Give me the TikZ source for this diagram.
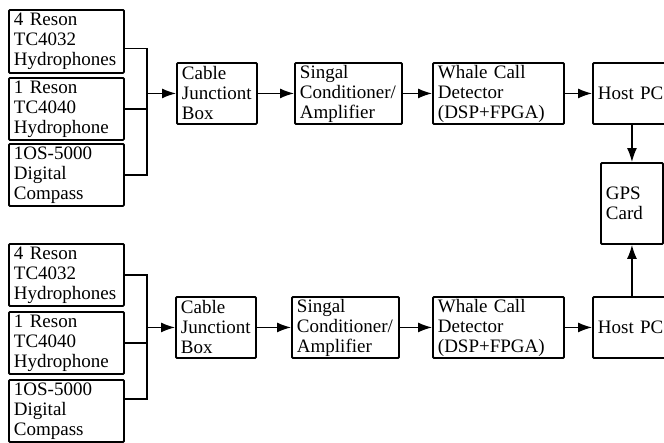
\documentclass[tikz,border=0pt]{standalone}
\usepackage{fontspec}
\setmainfont{Liberation Serif}
\usetikzlibrary{arrows.meta}
\tikzset{
  blk/.style={draw, line width=1.9pt, rounded corners=1pt, anchor=north west,
    inner xsep=5pt, inner ysep=0pt, align=left, minimum height=61pt,
    font=\fontsize{19}{20}\selectfont},
  arr/.style={-{Latex[length=14pt,width=10pt]}, line width=1.4pt},
  bus/.style={line width=1.4pt}
}
\begin{document}
\begin{tikzpicture}[x=1pt,y=-1pt]
  \useasboundingbox (0,0) rectangle (664,442);
  % upper chain
  \node[blk, text width=105pt, minimum height=63pt] (hydA) at (8,9) {4 Reson\\TC4032\\Hydrophones};
  \node[blk, text width=105pt, minimum height=62pt] (oneA) at (8,77) {1 Reson\\TC4040\\Hydrophone};
  \node[blk, text width=105pt, minimum height=62pt] (compA) at (8,143) {1OS-5000\\Digital\\Compass};
  \node[blk, text width=70pt] (cjbA) at (176,62) {Cable\\Junctiont\\Box};
  \node[blk, text width=97pt] (condA) at (294,62) {Singal\\Conditioner/\\Amplifier};
  \node[blk, text width=121pt] (detA) at (432,62) {Whale Call\\Detector\\(DSP+FPGA)};
  \node[blk, text width=70pt] (pcA) at (592,62) {Host PC};
  % gps
  \node[blk, text width=52pt, minimum height=81pt] (gps) at (600,162) {GPS\\Card};
  % lower chain
  \node[blk, text width=105pt, minimum height=62pt] (hydB) at (8,243) {4 Reson\\TC4032\\Hydrophones};
  \node[blk, text width=105pt, minimum height=62pt] (oneB) at (8,311) {1 Reson\\TC4040\\Hydrophone};
  \node[blk, text width=105pt, minimum height=62pt] (compB) at (8,379) {1OS-5000\\Digital\\Compass};
  \node[blk, text width=70pt] (cjbB) at (175,296) {Cable\\Junctiont\\Box};
  \node[blk, text width=97pt] (condB) at (291,296) {Singal\\Conditioner/\\Amplifier};
  \node[blk, text width=121pt] (detB) at (432,296) {Whale Call\\Detector\\(DSP+FPGA)};
  \node[blk, text width=70pt] (pcB) at (592,296) {Host PC};
  % sensor buses
  \path (cjbA.west) ++(-29,0) coordinate (busA);
  \path (cjbB.west) ++(-28,0) coordinate (busB);
  \draw[bus] ([yshift=-7pt]hydA.east) -| (busA);
  \draw[bus] (oneA.east) -| (busA);
  \draw[bus] (compA.east) -| (busA);
  \draw[bus] (hydB.east) -| (busB);
  \draw[bus] (oneB.east) -| (busB);
  \draw[bus] ([yshift=12pt]compB.east) -| (busB);
  \draw[arr] (busA) -- (cjbA);
  \draw[arr] (busB) -- (cjbB);
  % signal path
  \draw[arr] (cjbA) -- (condA);
  \draw[arr] (condA) -- (detA);
  \draw[arr] (detA) -- (pcA);
  \draw[arr] (cjbB) -- (condB);
  \draw[arr] (condB) -- (detB);
  \draw[arr] (detB) -- (pcB);
  \draw[arr] (pcA.south -| gps.north) -- (gps.north);
  \draw[arr] (pcB.north -| gps.south) -- (gps.south);
\end{tikzpicture}
\end{document}
